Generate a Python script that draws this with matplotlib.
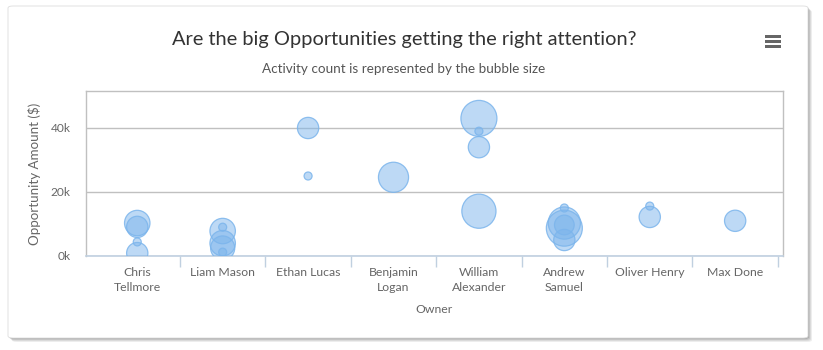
import numpy as np
import matplotlib.pyplot as plt
from matplotlib.patches import FancyBboxPatch, Rectangle

# Opportunities per owner: owner index, amount ($), activity count
owners = ["Chris\nTellmore", "Liam Mason", "Ethan Lucas", "Benjamin\nLogan",
          "William\nAlexander", "Andrew\nSamuel", "Oliver Henry", "Max Done"]
owner_idx = [0, 0, 0, 0,
             1, 1, 1, 1, 1,
             2, 2,
             3,
             4, 4, 4, 4,
             5, 5, 5, 5, 5,
             6, 6,
             7]
amount = [10300, 9100, 4400, 900,
          7800, 9000, 4000, 2500, 1200,
          40000, 25000,
          24600,
          43000, 39000, 34000, 14000,
          15000, 8700, 10300, 9700, 5000,
          12200, 15600,
          11000]
activity = [10, 7, 1, 7,
            10, 1, 10, 9, 1,
            7, 1,
            14,
            20, 1, 7, 18,
            1, 20, 16, 6, 7,
            7, 1,
            7]
yticks = [0, 20000, 40000]
ytick_labels = ["0k", "20k", "40k"]

W, H = 823, 350
fig = plt.figure(figsize=(W / 100, H / 100), dpi=100)
fig.patch.set_facecolor("white")
plt.rcParams['font.family'] = ['Lato', 'DejaVu Sans']

# card with soft shadow
for i, a in enumerate([0.10, 0.12, 0.16, 0.22]):
    off = 4 - i
    sh = FancyBboxPatch(((8 + off) / W, 1 - (338 + off) / H), 800 / W, 332 / H,
                        boxstyle="round,pad=0,rounding_size=0.006",
                        transform=fig.transFigure, facecolor="#555555",
                        edgecolor="none", alpha=a, zorder=0)
    fig.patches.append(sh)
card = FancyBboxPatch((8 / W, 1 - 338 / H), 800 / W, 332 / H,
                      boxstyle="round,pad=0,rounding_size=0.006",
                      transform=fig.transFigure, facecolor="white",
                      edgecolor="#dddddd", linewidth=0.6, zorder=1)
fig.patches.append(card)

ax = fig.add_axes([86 / W, 1 - 256 / H, (783 - 86) / W, (256 - 91) / H])
ax.set_zorder(2)
ax.patch.set_alpha(0)

# bubble diameters scaled by area between 8 and 36 px
z = np.array(activity, dtype=float)
pos = (z - z.min()) / (z.max() - z.min())
diam_px = np.sqrt(8 ** 2 + pos * (36 ** 2 - 8 ** 2))
sizes = (diam_px * 0.72) ** 2

ax.scatter(owner_idx, amount, s=sizes, facecolor=(124/255, 181/255, 236/255, 0.5),
           edgecolor=(124/255, 181/255, 236/255, 0.85), linewidth=0.9, zorder=3)

ax.set_xlim(-0.6, 7.56)
ax.set_ylim(0, 51560)

ax.set_yticks(yticks)
ax.set_yticklabels(ytick_labels)
ax.yaxis.grid(True, color="#c0c0c0", linewidth=1)
ax.set_axisbelow(True)
ax.tick_params(axis="y", length=0, pad=11, labelsize=8.6, labelcolor="#666666")

ax.set_xticks(range(len(owners)))
ax.set_xticklabels(owners, linespacing=1.45)
ax.set_xticks(np.arange(0.5, len(owners)), minor=True)
ax.tick_params(axis="x", which="major", length=0, pad=8, labelsize=8.8, labelcolor="#666666")
ax.tick_params(axis="x", which="minor", length=8, width=1, color="#c0d0e0")

for side in ["top", "left", "right"]:
    ax.spines[side].set_color("#c0c0c0")
    ax.spines[side].set_linewidth(1)
ax.spines["bottom"].set_color("#c0d0e0")
ax.spines["bottom"].set_linewidth(1.2)

ax.set_xlabel("Owner", fontsize=8.8, color="#666666", labelpad=8)
ax.set_ylabel("Opportunity Amount ($)", fontsize=9.6, color="#666666")
ax.yaxis.set_label_coords(-45 / 697, 0.5)

fig.text(404 / W, 1 - 40 / H, "Are the big Opportunities getting the right attention?",
         ha="center", va="center", fontsize=14.4, color="#333333")
fig.text(404 / W, 1 - 69 / H, "Activity count is represented by the bubble size",
         ha="center", va="center", fontsize=9.7, color="#555555")

# menu icon
for dy in (-5, 0, 5):
    fig.patches.append(Rectangle((765 / W, 1 - (41 + dy + 1.5) / H), 16 / W, 3 / H,
                                 transform=fig.transFigure, facecolor="#666666",
                                 edgecolor="none", zorder=3))

fig.savefig("out.png", dpi=100)
